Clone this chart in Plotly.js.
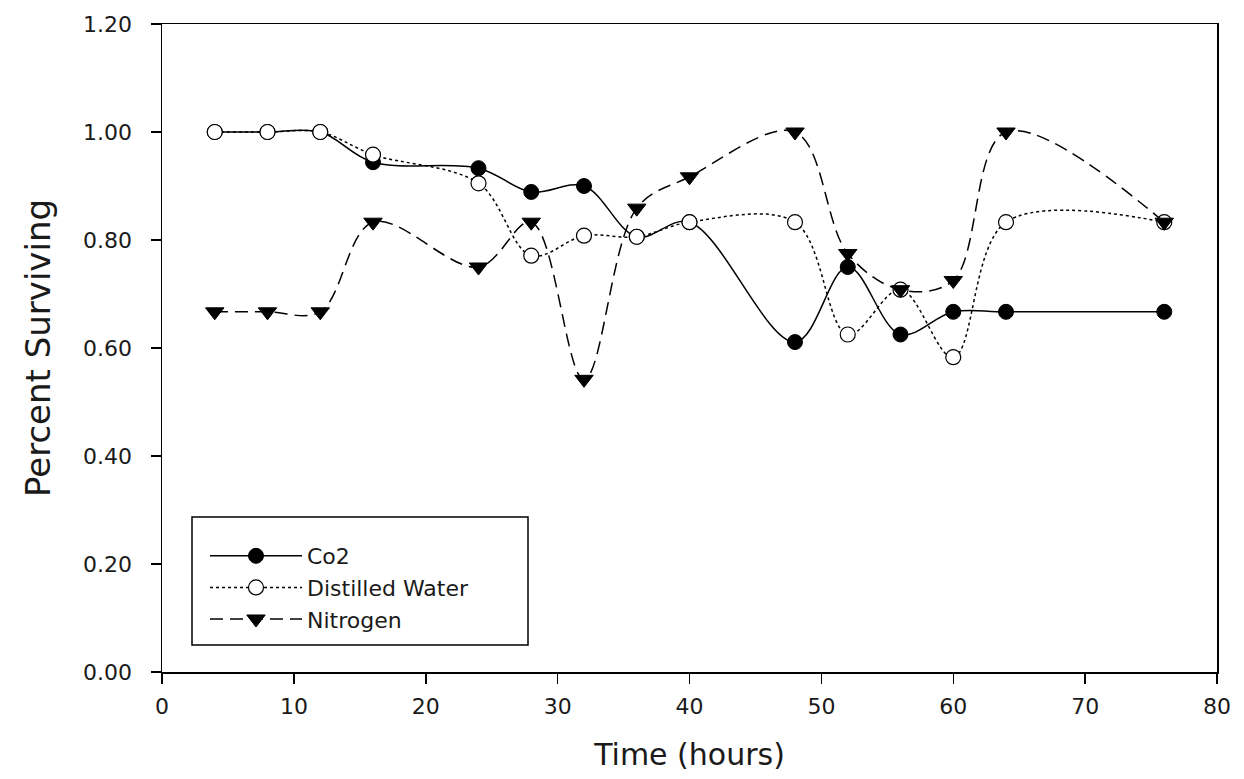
<!DOCTYPE html>
<html>
<head>
<meta charset="utf-8">
<script src="https://cdn.plot.ly/plotly-3.0.1.min.js"></script>
<style>html,body{margin:0;padding:0;background:#fff;}#chart{width:1244px;height:779px;}</style>
</head>
<body>
<div id="chart"></div>
<script>
var hours = [4, 8, 12, 16, 24, 28, 32, 36, 40, 48, 52, 56, 60, 64, 76];
var co2 = [1.0, 1.0, 1.0, 0.944, 0.933, 0.889, 0.9, 0.806, 0.833, 0.611, 0.75, 0.625, 0.667, 0.667, 0.667];
var water = [1.0, 1.0, 1.0, 0.958, 0.905, 0.771, 0.808, 0.806, 0.833, 0.833, 0.625, 0.708, 0.583, 0.833, 0.833];
var nitrogen = [0.667, 0.667, 0.667, 0.833, 0.75, 0.833, 0.542, 0.859, 0.917, 1.0, 0.775, 0.708, 0.725, 1.0, 0.833];
var seriesNames = ["Co2", "Distilled Water", "Nitrogen"];
var xTicks = [0, 10, 20, 30, 40, 50, 60, 70, 80];
var yTicks = [0, 0.2, 0.4, 0.6, 0.8, 1.0, 1.2];

var FONT = "DejaVu Sans, Liberation Sans, Arial, sans-serif";
var INK = "#1a1a1a";

var traces = [
  {x: hours, y: co2, name: seriesNames[0], mode: "lines+markers", type: "scatter",
   line: {color: "#000", width: 1.5, shape: "spline", smoothing: 1, dash: "solid"},
   marker: {symbol: "circle", size: 15, color: "#000", line: {color: "#000", width: 1}}},
  {x: hours, y: water, name: seriesNames[1], mode: "lines+markers", type: "scatter",
   line: {color: "#000", width: 1.5, shape: "spline", smoothing: 1, dash: "dot"},
   marker: {symbol: "circle", size: 15, color: "#fff", line: {color: "#000", width: 1.2}}},
  {x: hours, y: nitrogen, name: seriesNames[2], mode: "lines+markers", type: "scatter",
   line: {color: "#000", width: 1.5, shape: "spline", smoothing: 1, dash: "13px,7px"},
   marker: {symbol: "triangle-down", size: 16, color: "#000", line: {color: "#000", width: 1}}}
];

var layout = {
  width: 1244, height: 779,
  margin: {l: 162, r: 27, t: 24, b: 107},
  paper_bgcolor: "#fff", plot_bgcolor: "#fff",
  font: {family: FONT, color: INK, size: 22},
  showlegend: true,
  legend: {x: (205 - 162) / 1055, y: (672 - 535) / 648, xanchor: "left", yanchor: "top",
    borderwidth: 0, bgcolor: "rgba(0,0,0,0)",
    font: {family: FONT, size: 22, color: INK}, itemwidth: 92, tracegroupgap: 0},
  shapes: [{type: "rect", xref: "paper", yref: "paper",
    x0: (192 - 162) / 1055, x1: (528 - 162) / 1055,
    y0: (672 - 645) / 648, y1: (672 - 517) / 648,
    line: {color: "#000", width: 1.5}, fillcolor: "rgba(0,0,0,0)", layer: "below"}],
  xaxis: {range: [0, 80], tickvals: xTicks, ticks: "outside", ticklen: 10, tickwidth: 1.5,
    tickcolor: "#000", showline: true, linecolor: "#000", linewidth: 1.5, mirror: true,
    showgrid: false, zeroline: false, tickfont: {family: FONT, size: 22, color: INK},
    ticklabelstandoff: 4,
    title: {text: "Time (hours)", font: {family: FONT, size: 30, color: INK}, standoff: 26}},
  yaxis: {range: [0, 1.2], tickvals: yTicks, tickformat: ".2f", ticks: "outside", ticklen: 10,
    tickwidth: 1.5, tickcolor: "#000", showline: true, linecolor: "#000", linewidth: 1.5,
    mirror: true, showgrid: false, zeroline: false, tickfont: {family: FONT, size: 22, color: INK},
    ticklabelstandoff: 14,
    title: {text: "Percent Surviving", font: {family: FONT, size: 34, color: INK}, standoff: 22}}
};

Plotly.newPlot("chart", traces, layout, {displayModeBar: false, staticPlot: true});
</script>
</body>
</html>
